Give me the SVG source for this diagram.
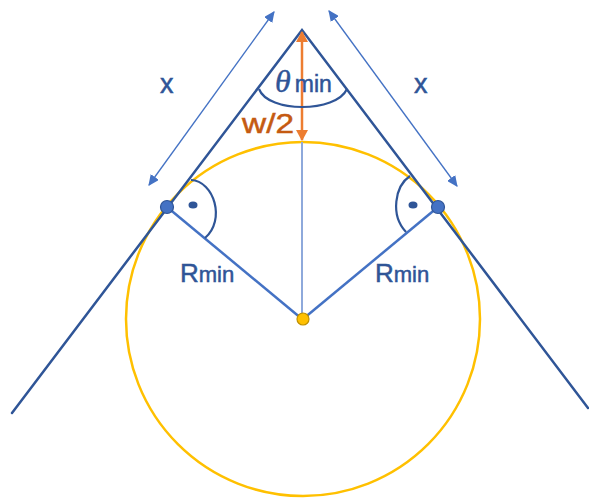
<svg xmlns="http://www.w3.org/2000/svg" width="589" height="498" viewBox="0 0 589 498">
<style>
.side{stroke:#2F5597;stroke-width:2.5;fill:none;stroke-linecap:round}
.rad{stroke:#4472C4;stroke-width:2.5;fill:none}
.dim{stroke:#4472C4;stroke-width:1.3;fill:none}
.mk{stroke:#2F5597;stroke-width:2.2;fill:none}
.lbl{font-family:"Liberation Sans",Arial,sans-serif;fill:#2F5597;stroke:#2F5597;stroke-width:0.5}
</style>
<defs>
<marker id="ab" viewBox="0 0 10 10" refX="9" refY="5" markerWidth="11" markerHeight="10" markerUnits="userSpaceOnUse" orient="auto-start-reverse" preserveAspectRatio="none">
<path d="M0,0 L10,5 L0,10 Z" fill="#4472C4"/>
</marker>
<marker id="ao" viewBox="0 0 10 10" refX="9" refY="5" markerWidth="11" markerHeight="12" markerUnits="userSpaceOnUse" orient="auto-start-reverse" preserveAspectRatio="none">
<path d="M0,0 L10,5 L0,10 Z" fill="#ED7D31"/>
</marker>
</defs>
<g id="circle">
<circle cx="303" cy="319" r="177" fill="none" stroke="#FFC000" stroke-width="2.5"/>
</g>
<g id="connectors">
<line x1="302" y1="142" x2="302" y2="319" stroke="#8EA9DB" stroke-width="2"/>
<line class="rad" x1="167" y1="207" x2="302" y2="319"/>
<line class="rad" x1="438" y1="207" x2="303" y2="319"/>
<path class="side" d="M12,413 L302,30 L588,408"/>
<line class="dim" x1="149" y1="185" x2="274" y2="12" marker-start="url(#ab)" marker-end="url(#ab)"/>
<line class="dim" x1="457" y1="186" x2="329" y2="11" marker-start="url(#ab)" marker-end="url(#ab)"/>
<line x1="302" y1="140" x2="302" y2="32" stroke="#ED7D31" stroke-width="2.5" marker-start="url(#ao)" marker-end="url(#ao)"/>
<path class="mk" d="M259,89 C268,113 336,113 347,89"/>
<path class="mk" d="M191,180 C214,181 226,220 205,238"/>
<path class="mk" d="M410,176 C395,186 390,215 406,232"/>
</g>
<g id="tangent-left">
<circle cx="167" cy="207" r="6.5" fill="#4472C4" stroke="#2F5597" stroke-width="1.2"/>
<ellipse cx="193" cy="205" rx="4.5" ry="3.5" fill="#2F5597"/>
</g>
<g id="tangent-right">
<circle cx="438" cy="207" r="6.5" fill="#4472C4" stroke="#2F5597" stroke-width="1.2"/>
<ellipse cx="413" cy="205" rx="4.5" ry="3.5" fill="#2F5597"/>
</g>
<g id="center">
<circle cx="303" cy="319" r="6" fill="#FFC000" stroke="#BF9000" stroke-width="1.2"/>
</g>
<g id="labels">
<text class="lbl" x="160" y="93" font-size="27">x</text>
<text class="lbl" x="414" y="93" font-size="27">x</text>
<text class="lbl" x="275" y="92" font-size="23"><tspan font-family="'Liberation Serif',serif" font-style="italic" font-size="32" stroke-width="0.4">θ</tspan><tspan dx="4">min</tspan></text>
<text x="242" y="133" font-family="'Liberation Sans',Arial,sans-serif" font-size="28" fill="#C55A11" stroke="#C55A11" stroke-width="0.5" textLength="52" lengthAdjust="spacingAndGlyphs">w/2</text>
<text class="lbl" x="180" y="282" font-size="26">R<tspan font-size="22">min</tspan></text>
<text class="lbl" x="375" y="282" font-size="26">R<tspan font-size="22">min</tspan></text>
</g>
</svg>
